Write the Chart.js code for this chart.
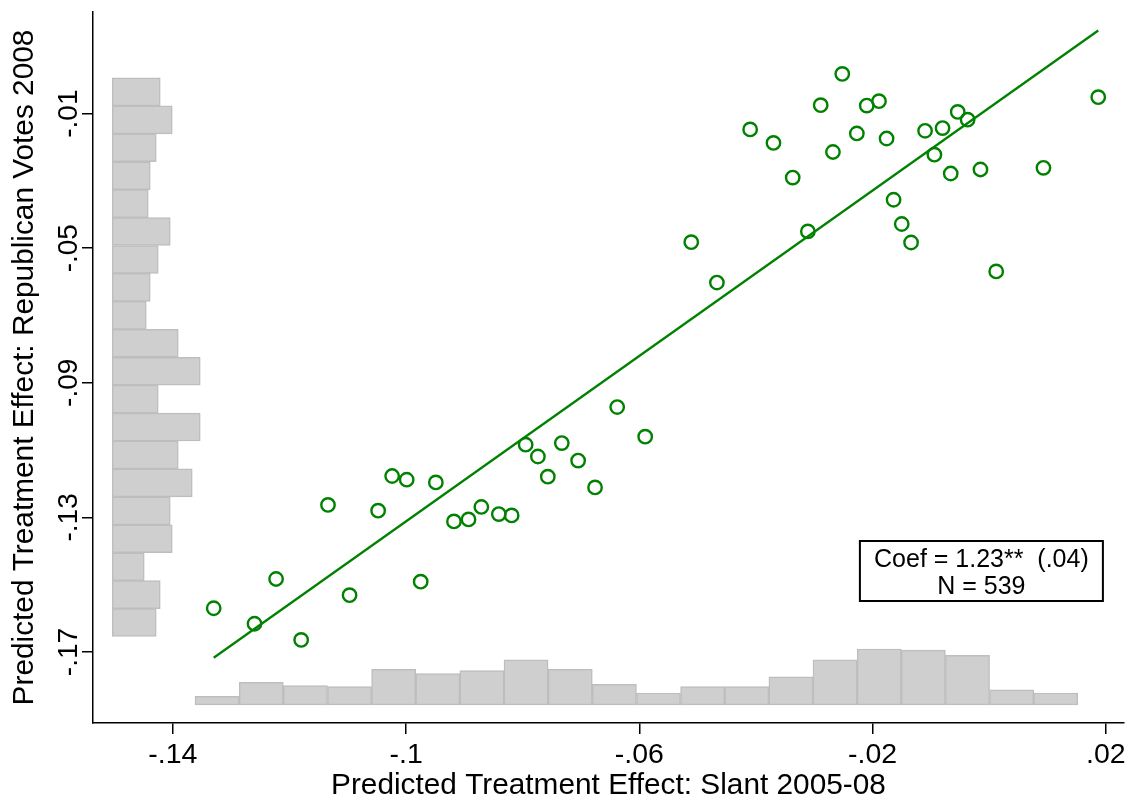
<!DOCTYPE html>
<html>
<head>
<meta charset="utf-8">
<title>Predicted treatment effects</title>
<script src="https://cdn.jsdelivr.net/npm/chart.js@4.4.1/dist/chart.umd.min.js"></script>
<style>
  html, body { margin: 0; padding: 0; background: #fff; }
  #wrap { width: 1133px; height: 801px; }
</style>
</head>
<body>
<div id="wrap"><canvas id="effectChart" width="1133" height="801"></canvas></div>
<script>
// Binned scatter: predicted slant effect (x) vs predicted Republican vote effect (y)
const slantBins = [
  -0.1330, -0.1260, -0.1223, -0.1180, -0.1134, -0.1097, -0.1048, -0.1024, -0.0999, -0.0975,
  -0.0949, -0.0918, -0.0893, -0.0871, -0.0841, -0.0819, -0.0795, -0.0774, -0.0757, -0.0733,
  -0.0705, -0.0676, -0.0638, -0.0590, -0.0511, -0.0467, -0.0410, -0.0370, -0.0337, -0.0311,
  -0.0289, -0.0268, -0.0252, -0.0227, -0.0210, -0.0189, -0.0176, -0.0164, -0.0150, -0.0134,
  -0.0110, -0.0094, -0.0080, -0.0066, -0.0054, -0.0037, -0.0015, 0.0012, 0.0093, 0.0187
];
const voteBins = [
  -0.1570, -0.1616, -0.1483, -0.1664, -0.1263, -0.1531, -0.1280, -0.1177, -0.1188, -0.1491,
  -0.1196, -0.1312, -0.1306, -0.1269, -0.1290, -0.1294, -0.1084, -0.1119, -0.1179, -0.1079,
  -0.1131, -0.1211, -0.0972, -0.1060, -0.0482, -0.0602, -0.0147, -0.0187, -0.0290, -0.0450,
  -0.0075, -0.0214, 0.0018, -0.0159, -0.0076, -0.0063, -0.0174, -0.0356, -0.0428, -0.0483,
  -0.0151, -0.0222, -0.0143, -0.0278, -0.0095, -0.0118, -0.0266, -0.0569, -0.0261, -0.0051
];

// fitted line end points
const fitX = [-0.1330, 0.0187];
const fitY = [-0.1717, 0.0147];

const xTicks = [-0.14, -0.10, -0.06, -0.02, 0.02];
const yTicks = [-0.17, -0.13, -0.09, -0.05, -0.01];

// marginal histogram of the slant effect, 20 bins, left to right
const slantHistStart = -0.1362;
const slantHistWidth = 0.00757;
const slantHistCounts = [8, 21, 18, 17, 33, 29, 32, 42, 33, 19, 11, 17, 17, 26, 42, 52, 51, 46, 14, 11];

// marginal histogram of the vote effect, 20 bins, top to bottom
const voteHistStart = 0.0006;
const voteHistWidth = 0.0083;
const voteHistCounts = [24, 30, 22, 19, 18, 29, 23, 19, 17, 33, 44, 23, 44, 33, 40, 29, 30, 16, 24, 22];

const noteLines = ['Coef = 1.23**  (.04)', 'N = 539'];

// axis ranges and histogram placement
const X_MIN = -0.1537, X_MAX = 0.0231;
const Y_MIN = -0.1911, Y_MAX = 0.0202;
const SLANT_HIST_BASE = -0.1857, SLANT_HIST_UNIT = 0.000319;
const VOTE_HIST_BASE = -0.1504, VOTE_HIST_UNIT = 0.000343;

const GREEN = 'rgb(0,130,0)';
const HIST_FILL = 'rgb(207,207,207)';
const HIST_EDGE = 'rgb(190,190,190)';
const FONT = '"Liberation Sans", Arial, Helvetica, sans-serif';

function fmt(v) {
  return String(Math.round(v * 100) / 100).replace('0.', '.');
}

const slantHist = slantHistCounts.map((c, i) => ({
  x: slantHistStart + slantHistWidth * (i + 0.5),
  y: [SLANT_HIST_BASE, SLANT_HIST_BASE + c * SLANT_HIST_UNIT]
}));
const voteHist = voteHistCounts.map((c, i) => ({
  y: voteHistStart - voteHistWidth * (i + 0.5),
  x: [VOTE_HIST_BASE, VOTE_HIST_BASE + c * VOTE_HIST_UNIT]
}));

// y tick labels (rotated) and the coefficient box
const extrasPlugin = {
  id: 'extras',
  afterDraw(chart) {
    const { ctx, chartArea, scales } = chart;
    ctx.save();
    ctx.fillStyle = '#000';
    ctx.font = '28px ' + FONT;
    ctx.textAlign = 'center';
    ctx.textBaseline = 'middle';
    yTicks.forEach(v => {
      const py = scales.y.getPixelForValue(v);
      ctx.save();
      ctx.translate(chartArea.left - 24, py);
      ctx.rotate(-Math.PI / 2);
      ctx.fillText(fmt(v), 0, 0);
      ctx.restore();
    });

    const bx = chartArea.right - 264, by = chartArea.top + 529, bw = 243, bh = 60;
    ctx.fillStyle = '#fff';
    ctx.fillRect(bx, by, bw, bh);
    ctx.strokeStyle = '#000';
    ctx.lineWidth = 2;
    ctx.strokeRect(bx, by, bw, bh);
    ctx.fillStyle = '#000';
    ctx.font = '25px ' + FONT;
    ctx.fillText(noteLines[0], bx + bw / 2, by + 19);
    ctx.fillText(noteLines[1], bx + bw / 2, by + 46);
    ctx.restore();
  }
};

const axisBase = {
  type: 'linear',
  offset: false,
  grid: { display: true, offset: false, drawOnChartArea: false, drawTicks: true, tickLength: 11, color: '#000', lineWidth: 1.5 },
  border: { display: true, color: '#000', width: 1.5 }
};

new Chart(document.getElementById('effectChart'), {
  type: 'scatter',
  data: {
    datasets: [
      {
        label: 'Bins',
        data: slantBins.map((x, i) => ({ x, y: voteBins[i] })),
        pointStyle: 'circle',
        pointRadius: 6.7,
        pointBorderWidth: 2.4,
        pointBorderColor: GREEN,
        pointBackgroundColor: 'rgba(0,0,0,0)',
        order: 0
      },
      {
        type: 'line',
        label: 'Fit',
        data: fitX.map((x, i) => ({ x, y: fitY[i] })),
        borderColor: GREEN,
        borderWidth: 2.3,
        pointRadius: 0,
        fill: false,
        order: 1
      },
      {
        type: 'bar',
        label: 'Slant histogram',
        data: slantHist,
        xAxisID: 'x',
        yAxisID: 'yH',
        backgroundColor: HIST_FILL,
        borderColor: HIST_EDGE,
        borderWidth: 1.5,
        borderSkipped: false,
        barPercentage: 1,
        categoryPercentage: 1,
        grouped: false,
        order: 2
      },
      {
        type: 'bar',
        label: 'Vote histogram',
        indexAxis: 'y',
        data: voteHist,
        xAxisID: 'xH',
        yAxisID: 'y',
        backgroundColor: HIST_FILL,
        borderColor: HIST_EDGE,
        borderWidth: 1.5,
        borderSkipped: false,
        barPercentage: 1,
        categoryPercentage: 1,
        grouped: false,
        order: 3
      }
    ]
  },
  options: {
    responsive: false,
    maintainAspectRatio: false,
    devicePixelRatio: 1,
    animation: false,
    layout: { padding: { top: 12, right: 6, left: 0, bottom: 0 } },
    plugins: { legend: { display: false }, tooltip: { enabled: false } },
    scales: {
      x: {
        ...axisBase,
        position: 'bottom',
        min: X_MIN,
        max: X_MAX,
        afterBuildTicks: s => { s.ticks = xTicks.map(v => ({ value: v })); },
        afterFit: s => { s.height = 78; },
        ticks: {
          color: '#000',
          font: { family: FONT, size: 28.5 },
          padding: 4,
          maxRotation: 0,
          autoSkip: false,
          callback: v => fmt(v)
        },
        title: {
          display: true,
          text: 'Predicted Treatment Effect: Slant 2005-08',
          color: '#000',
          font: { family: FONT, size: 29.8 },
          padding: { top: 0, bottom: -3 }
        }
      },
      y: {
        ...axisBase,
        position: 'left',
        min: Y_MIN,
        max: Y_MAX,
        afterBuildTicks: s => { s.ticks = yTicks.map(v => ({ value: v })); },
        afterFit: s => { s.width = 93; },
        ticks: { display: false },
        title: {
          display: true,
          text: 'Predicted Treatment Effect: Republican Votes 2008',
          color: '#000',
          font: { family: FONT, size: 29.8 },
          padding: { top: 7, bottom: 0 }
        }
      },
      xH: { type: 'linear', axis: 'x', display: false, offset: false, min: X_MIN, max: X_MAX },
      yH: { type: 'linear', axis: 'y', display: false, offset: false, min: Y_MIN, max: Y_MAX }
    }
  },
  plugins: [extrasPlugin]
});
</script>
</body>
</html>
